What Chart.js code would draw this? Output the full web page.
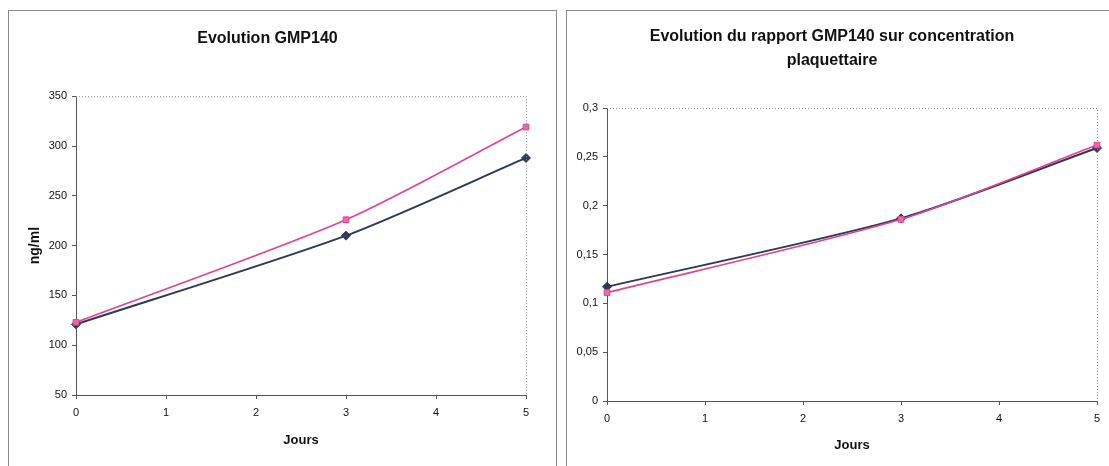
<!DOCTYPE html>
<html>
<head>
<meta charset="utf-8">
<script src="https://cdn.jsdelivr.net/npm/chart.js@4.4.1/dist/chart.umd.min.js"></script>
<style>
  body { margin: 0; background: #fff; width: 1109px; height: 466px; overflow: hidden; position: relative; }
  .box { position: absolute; border: 1px solid #8a8a8a; box-sizing: border-box; background: #fff; }
  .box canvas { position: absolute; left: 0; top: 0; }
</style>
</head>
<body>
<div class="box" id="boxLeft" style="left:8px; top:10px; width:549px; height:480px;">
  <canvas id="chartLeft" width="547" height="455"></canvas>
</div>
<div class="box" id="boxRight" style="left:566px; top:10px; width:560px; height:480px;">
  <canvas id="chartRight" width="542" height="455"></canvas>
</div>
<script>
// ===============================
// Data
// ===============================
const jours = [0, 3, 5];

// GMP140 (ng/ml)
const gmpSerieA = [121, 210, 288];
const gmpSerieB = [123, 226, 319];

// GMP140 / concentration plaquettaire
const rapportSerieA = [0.117, 0.187, 0.259];
const rapportSerieB = [0.111, 0.186, 0.262];

const xTicks = [0, 1, 2, 3, 4, 5];
const gmpTicks = [50, 100, 150, 200, 250, 300, 350];
const rapportTicks = [0, 0.05, 0.1, 0.15, 0.2, 0.25, 0.3];
const rapportTickLabels = ["0", "0,05", "0,1", "0,15", "0,2", "0,25", "0,3"];

const DARK = "#2f3a55";
const PINK = "#e0448e";
const AXIS = "#555555";
const FONT = "'Liberation Sans', Arial, sans-serif";

// ===============================
// Helpers
// ===============================
function toPoints(values) {
  return jours.map((x, i) => ({ x: x, y: values[i] }));
}

function makeDatasets(pinkValues, darkValues) {
  // pink first so it is drawn on top
  return [
    {
      data: toPoints(pinkValues),
      borderColor: PINK,
      borderWidth: 1.6,
      pointStyle: "rect",
      pointRadius: 4,
      pointBackgroundColor: "#ea6aa8",
      pointBorderColor: PINK,
      pointBorderWidth: 1,
      tension: 0.25,
      clip: false,
    },
    {
      data: toPoints(darkValues),
      borderColor: DARK,
      borderWidth: 2,
      pointStyle: "rectRot",
      pointRadius: 4.5,
      pointBackgroundColor: DARK,
      pointBorderColor: DARK,
      pointBorderWidth: 1,
      tension: 0.25,
      clip: false,
    },
  ];
}

// dotted top and right edge of the plot area
const plotFrame = {
  id: "plotFrame",
  afterDatasetsDraw(chart) {
    const { ctx, chartArea: a } = chart;
    ctx.save();
    ctx.strokeStyle = "#8c8c8c";
    ctx.lineWidth = 1;
    ctx.setLineDash([1, 2]);
    ctx.beginPath();
    ctx.moveTo(a.left, a.top + 0.5);
    ctx.lineTo(a.right + 0.5, a.top + 0.5);
    ctx.lineTo(a.right + 0.5, a.bottom);
    ctx.stroke();
    ctx.restore();
  },
};

function buildChart(canvasId, cfg) {
  const canvas = document.getElementById(canvasId);
  const W = canvas.width;
  const H = canvas.height;

  return new Chart(canvas.getContext("2d"), {
    type: "line",
    data: { datasets: cfg.datasets },
    plugins: [plotFrame],
    options: {
      responsive: false,
      animation: false,
      layout: { padding: { left: 0, top: 0, bottom: 0, right: W - cfg.area.right } },
      plugins: {
        legend: { display: false },
        tooltip: { enabled: false },
        title: {
          display: true,
          text: cfg.title,
          color: "#111",
          font: { family: FONT, size: 16, weight: "bold", lineHeight: cfg.titleLineHeight },
          padding: cfg.titlePadding,
        },
      },
      scales: {
        x: {
          type: "linear",
          min: 0,
          max: 5,
          afterBuildTicks: (scale) => {
            scale.ticks = xTicks.map((v) => ({ value: v }));
          },
          afterFit: (scale) => {
            scale.height = H - cfg.area.bottom;
          },
          grid: { display: true, drawOnChartArea: false, drawTicks: true, tickLength: 4, color: AXIS },
          border: { display: true, color: AXIS, width: 1 },
          ticks: {
            color: "#111",
            padding: 7,
            maxRotation: 0,
            font: { family: FONT, size: 11 },
          },
          title: {
            display: true,
            text: "Jours",
            color: "#111",
            font: { family: FONT, size: 13, weight: "bold" },
            padding: { top: 0, bottom: cfg.xTitlePad },
          },
        },
        y: {
          type: "linear",
          min: cfg.yTicks[0],
          max: cfg.yTicks[cfg.yTicks.length - 1],
          afterBuildTicks: (scale) => {
            scale.ticks = cfg.yTicks.map((v) => ({ value: v }));
          },
          afterFit: (scale) => {
            scale.width = cfg.area.left;
          },
          grid: { display: true, drawOnChartArea: false, drawTicks: true, tickLength: 4, color: AXIS },
          border: { display: true, color: AXIS, width: 1 },
          ticks: {
            color: "#111",
            padding: 5,
            font: { family: FONT, size: 11 },
            callback: cfg.yLabel,
          },
          title: {
            display: !!cfg.yTitle,
            text: cfg.yTitle || "",
            color: "#111",
            font: { family: FONT, size: 14, weight: "bold" },
            padding: { top: 18, bottom: 0 },
          },
        },
      },
    },
  });
}

// ===============================
// Charts
// ===============================
function init() {
  buildChart("chartLeft", {
    title: "Evolution GMP140",
    titleLineHeight: 1.2,
    titlePadding: { top: 18, bottom: 48 },
    area: { left: 67, right: 517, bottom: 384 },
    xTitlePad: 18,
    yTicks: gmpTicks,
    yLabel: (v) => String(v),
    yTitle: "ng/ml",
    datasets: makeDatasets(gmpSerieB, gmpSerieA),
  });

  buildChart("chartRight", {
    title: ["Evolution du rapport GMP140 sur concentration", "plaquettaire"],
    titleLineHeight: 1.5,
    titlePadding: { top: 14, bottom: 35 },
    area: { left: 40, right: 530, bottom: 390 },
    xTitlePad: 13,
    yTicks: rapportTicks,
    yLabel: (v) => {
      const i = rapportTicks.findIndex((t) => Math.abs(t - v) < 1e-9);
      return i >= 0 ? rapportTickLabels[i] : "";
    },
    yTitle: null,
    datasets: makeDatasets(rapportSerieB, rapportSerieA),
  });
}

window.addEventListener("DOMContentLoaded", init);
</script>
</body>
</html>
